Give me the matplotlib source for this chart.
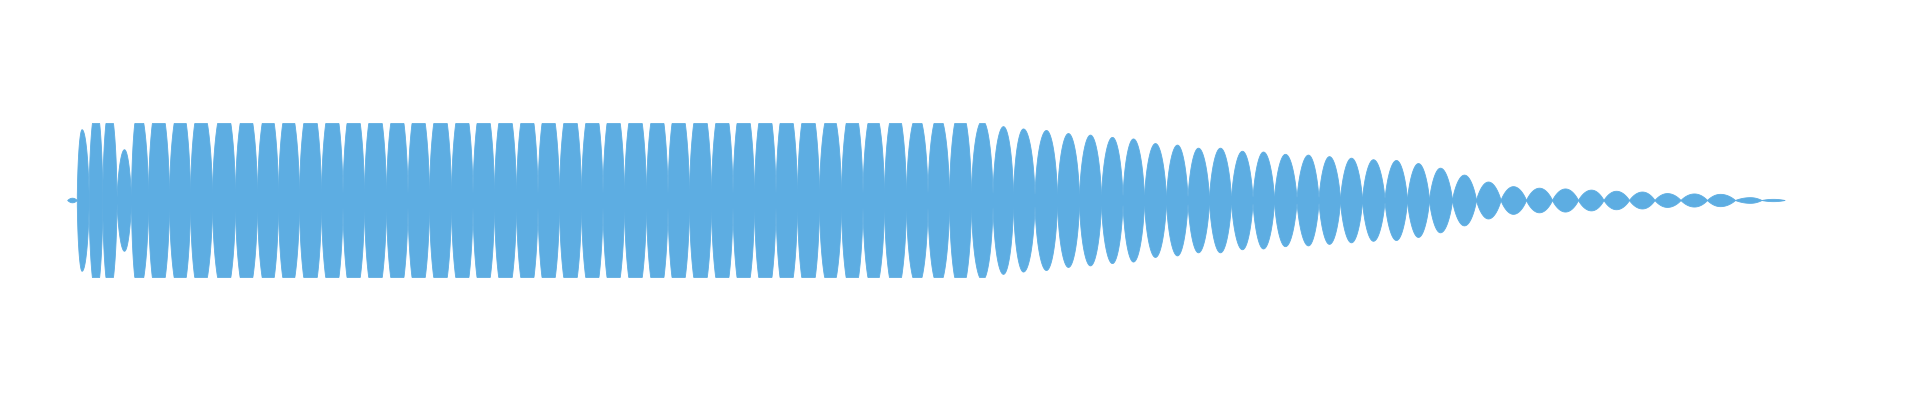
import numpy as np
import matplotlib
matplotlib.use("Agg")
import matplotlib.pyplot as plt

# Beat lobes of the waveform: centre time (s) and peak envelope amplitude
lobe_time = [
    0.025, 0.073, 0.143, 0.21, 0.285, 0.355, 0.455, 0.565, 0.665, 0.785,
    0.895, 1.005, 1.105, 1.215, 1.325, 1.43, 1.54, 1.65, 1.755, 1.865,
    1.975, 2.08, 2.19, 2.30, 2.405, 2.515, 2.625, 2.73, 2.84, 2.95,
    3.055, 3.165, 3.275, 3.38, 3.49, 3.595, 3.705, 3.815, 3.925, 4.03,
    4.14, 4.25, 4.355, 4.465, 4.575, 4.68, 4.78, 4.895, 5.005, 5.115,
    5.225, 5.33, 5.44, 5.55, 5.655, 5.765, 5.875, 5.98, 6.09, 6.205,
    6.31, 6.42, 6.53, 6.645, 6.755, 6.865, 6.985, 7.105, 7.23, 7.36,
    7.49, 7.62, 7.745, 7.875, 8.0, 8.135, 8.265, 8.415, 8.53,
]
lobe_amp = [
    0.03, 0.92, 1.2, 1.2, 0.66, 1.2, 1.3, 1.25, 1.25, 1.25,
    1.25, 1.25, 1.25, 1.3, 1.3, 1.3, 1.3, 1.3, 1.3, 1.3,
    1.3, 1.3, 1.3, 1.3, 1.3, 1.3, 1.3, 1.3, 1.3, 1.3,
    1.3, 1.3, 1.3, 1.3, 1.3, 1.3, 1.3, 1.2, 1.25, 1.2,
    1.22, 1.12, 1.12, 1.2, 1.04, 0.96, 0.93, 0.91, 0.87, 0.85,
    0.82, 0.80, 0.74, 0.72, 0.68, 0.68, 0.64, 0.63, 0.60, 0.59,
    0.57, 0.55, 0.53, 0.52, 0.48, 0.42, 0.33, 0.24, 0.18, 0.16,
    0.15, 0.135, 0.12, 0.11, 0.09, 0.085, 0.08, 0.037, 0.015,
]

COLOR = "#5DADE2"
CLIP = 1.0

fig = plt.figure(figsize=(19.2, 4.0), dpi=100)
ax = fig.add_axes([0, 0, 1, 1])

c = np.asarray(lobe_time, dtype=float)
a = np.asarray(lobe_amp, dtype=float)
mids = (c[1:] + c[:-1]) / 2
starts = np.concatenate([[c[0] - (c[1] - c[0]) / 2], mids])
ends = np.concatenate([mids, [c[-1] + (c[-1] - c[-2]) / 2]])

for s, e, ci, A in zip(starts, ends, c, a):
    t = np.linspace(s, e, 200)
    half_l = ci - s
    half_r = e - ci
    u = np.where(t < ci, (t - ci) / half_l, (t - ci) / half_r)
    p = 0.55 + 0.45 * (1 - min(A, 1.0))
    env = A * np.clip(1 - u ** 2, 0, 1) ** p
    floor = 0.09 * min(A, 1.0) ** 1.5
    env = np.clip(np.maximum(env, floor), 0, CLIP)
    ax.fill_between(t, -env, env, color=COLOR, linewidth=0.6, edgecolor=COLOR)

ax.set_xlim(-0.335, 9.265)
ax.set_ylim(-2.6, 2.6)
ax.axis("off")
fig.savefig("out.png", dpi=100, facecolor="white")
